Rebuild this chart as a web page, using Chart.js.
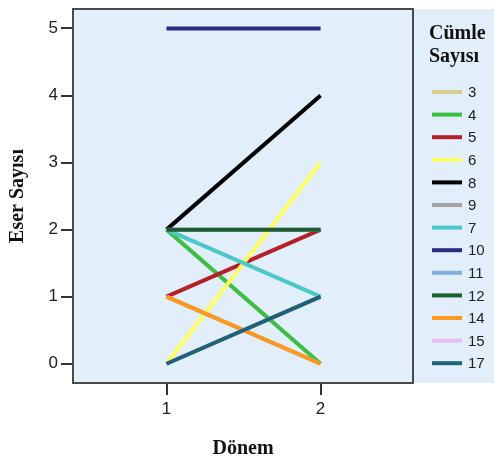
<!DOCTYPE html>
<html>
<head>
<meta charset="utf-8">
<script src="https://cdn.jsdelivr.net/npm/chart.js@4"></script>
<style>
  html, body { margin: 0; padding: 0; background: #fff; }
  #wrap { width: 494px; height: 461px; }
</style>
</head>
<body>
<div id="wrap"><canvas id="graph" width="494" height="461"></canvas></div>
<script>
// Dönem (x) and Eser Sayısı (y) per Cümle Sayısı
var periods = [1, 2];
var yTicks = [0, 1, 2, 3, 4, 5];
var sentenceCounts = ['3', '4', '5', '6', '8', '9', '7', '10', '11', '12', '14', '15', '17'];

var c3 = [0, 1];
var c4 = [2, 0];
var c5 = [1, 2];
var c6 = [0, 3];
var c8 = [2, 4];
var c9 = [1, 0];
var c7 = [2, 1];
var c10 = [5, 5];
var c11 = [2, 2];
var c12 = [2, 2];
var c14 = [1, 0];
var c15 = [0, 1];
var c17 = [0, 1];

var seriesValues = [c3, c4, c5, c6, c8, c9, c7, c10, c11, c12, c14, c15, c17];
var lineColors = ['#D6CE8E', '#3CBE42', '#B3202A', '#FFFF66', '#000000', '#A3A3A3',
    '#4CC8C8', '#2A2A7E', '#82AEDF', '#1C5E30', '#FF981C', '#E6BDF2', '#1E6178'];

var panelColor = '#E2EEFA';

var datasets = sentenceCounts.map(function (name, i) {
    return {
        label: name,
        data: periods.map(function (p, j) { return { x: p, y: seriesValues[i][j] }; }),
        borderColor: lineColors[i],
        backgroundColor: lineColors[i],
        borderWidth: 4,
        pointRadius: 0,
        fill: false,
        order: sentenceCounts.length - i   // later series drawn on top
    };
});

var framePlugin = {
    id: 'frame',
    beforeDraw: function (chart) {
        var ctx = chart.ctx, a = chart.chartArea;
        ctx.save();
        ctx.fillStyle = panelColor;
        ctx.fillRect(a.left, a.top, a.right - a.left, a.bottom - a.top);
        ctx.fillRect(a.right, a.top, chart.width - a.right, a.bottom - a.top);
        ctx.restore();
    },
    afterDraw: function (chart) {
        var ctx = chart.ctx, a = chart.chartArea;
        ctx.save();
        ctx.strokeStyle = '#4a4a4a';
        ctx.lineWidth = 2;
        ctx.strokeRect(a.left, a.top, a.right - a.left, a.bottom - a.top);

        // legend
        var lx = a.right + 16;
        ctx.fillStyle = '#111';
        ctx.font = 'bold 20px "Liberation Serif"';
        ctx.textAlign = 'left';
        ctx.textBaseline = 'middle';
        ctx.fillText('Cümle', lx, 34);
        ctx.fillText('Sayısı', lx, 57);
        ctx.font = '15px "Liberation Sans"';
        chart.data.datasets.forEach(function (ds, i) {
            var y = 92 + i * 22.6;
            ctx.strokeStyle = ds.borderColor;
            ctx.lineWidth = 4;
            ctx.beginPath();
            ctx.moveTo(a.right + 19, y);
            ctx.lineTo(a.right + 49, y);
            ctx.stroke();
            ctx.fillStyle = '#222';
            ctx.fillText(ds.label, a.right + 55, y + 1);
        });
        ctx.restore();
    }
};

var tickGrid = {
    drawOnChartArea: false,
    drawTicks: true,
    tickLength: 12,
    color: '#333',
    lineWidth: 2
};

new Chart(document.getElementById('graph'), {
    type: 'line',
    data: { datasets: datasets },
    options: {
        responsive: false,
        animation: false,
        layout: { padding: { top: 9, right: 81, left: 0, bottom: 0 } },
        plugins: { legend: { display: false }, tooltip: { enabled: false } },
        scales: {
            x: {
                type: 'linear',
                min: 0.393,
                max: 2.6,
                afterBuildTicks: function (scale) {
                    scale.ticks = periods.map(function (v) { return { value: v }; });
                },
                afterFit: function (scale) {
                    scale.height = 78;
                    scale.paddingLeft = 0;
                    scale.paddingRight = 0;
                },
                grid: tickGrid,
                border: { display: false },
                ticks: { color: '#222', font: { size: 17, family: 'Liberation Sans' }, padding: 4 },
                title: {
                    display: true,
                    text: 'Dönem',
                    color: '#111',
                    font: { size: 20, weight: 'bold', family: 'Liberation Serif' },
                    padding: { bottom: 0 }
                }
            },
            y: {
                type: 'linear',
                min: -0.287,
                max: 5.29,
                afterBuildTicks: function (scale) {
                    scale.ticks = yTicks.map(function (v) { return { value: v }; });
                },
                afterFit: function (scale) {
                    scale.width = 73;
                    scale.paddingTop = 0;
                    scale.paddingBottom = 0;
                },
                grid: tickGrid,
                border: { display: false },
                ticks: { color: '#222', font: { size: 17, family: 'Liberation Sans' }, padding: 3 },
                title: {
                    display: true,
                    text: 'Eser Sayısı',
                    color: '#111',
                    font: { size: 20, weight: 'bold', family: 'Liberation Serif' },
                    padding: { top: 6 }
                }
            }
        }
    },
    plugins: [framePlugin]
});
</script>
</body>
</html>
